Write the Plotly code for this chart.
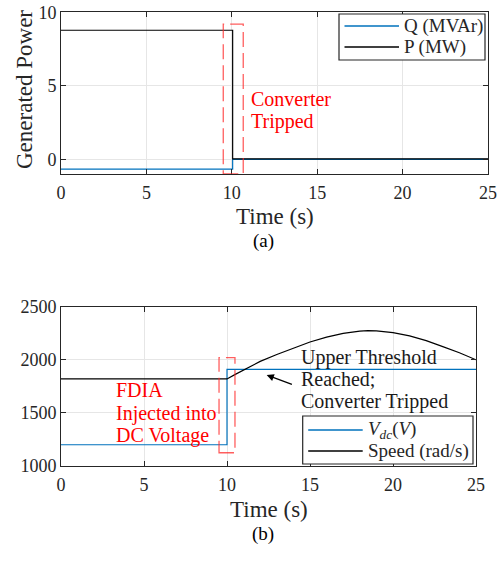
import plotly.graph_objects as go

# ---- data (a) ----
t_q = [0, 10.05, 25]
q_mvar = [-0.67, 0.0, 0.0]
t_p = [0, 10.05, 25]
p_mw = [8.78, 0.03, 0.03]

# ---- data (b) ----
t_vdc = [0, 10.0, 25]
vdc = [1200, 1910, 1910]
t_speed = [0, 5, 10, 10.5, 11, 11.5, 12, 13, 14, 15, 16, 17, 18, 18.5, 19, 20, 21, 22, 23, 24, 25]
speed = [1820, 1820, 1820, 1863, 1905, 1946, 1985, 2050, 2110, 2168, 2213, 2248, 2270, 2275, 2273,
         2256, 2226, 2180, 2124, 2066, 2000]

x_ticks = [0, 5, 10, 15, 20, 25]
ya_ticks = [0, 5, 10]
yb_ticks = [1000, 1500, 2000, 2500]

names_a = ["Q (MVAr)", "P (MW)"]
names_b = ["<i>V</i><sub><i>dc</i></sub>(<i>V</i>)", "Speed (rad/s)"]

FONT = "Liberation Serif"
AX = "#262626"
BLUE = "#0072BD"
RED = "#FF0000"
RECT = "rgba(255,40,40,0.75)"

W, H = 503, 561


def xp(px):
    return px / W


def yp(py):
    return 1 - py / H


fig = go.Figure()
fig.add_trace(go.Scatter(x=t_q, y=q_mvar, mode="lines", line=dict(color=BLUE, width=1.2, shape="hv"),
                         name=names_a[0], xaxis="x", yaxis="y", showlegend=False))
fig.add_trace(go.Scatter(x=t_p, y=p_mw, mode="lines", line=dict(color="black", width=1.2, shape="hv"),
                         name=names_a[1], xaxis="x", yaxis="y", showlegend=False))
fig.add_trace(go.Scatter(x=t_vdc, y=vdc, mode="lines", line=dict(color=BLUE, width=1.2, shape="hv"),
                         name=names_b[0], xaxis="x2", yaxis="y2", showlegend=False))
fig.add_trace(go.Scatter(x=t_speed, y=speed, mode="lines", line=dict(color="black", width=1.2, shape="linear"),
                         name=names_b[1], xaxis="x2", yaxis="y2", showlegend=False))

axis_common = dict(showline=True, linecolor=AX, linewidth=1, mirror="ticks", ticks="inside",
                   ticklen=5, tickcolor=AX, showgrid=True, gridcolor="#E6E6E6", gridwidth=1,
                   zeroline=False, automargin=False, tickfont=dict(family=FONT, size=18, color=AX))

fig.update_layout(
    width=W, height=H, margin=dict(l=0, r=0, t=0, b=0),
    plot_bgcolor="white", paper_bgcolor="white",
    font=dict(family=FONT, size=18, color=AX),
    xaxis=dict(domain=[xp(61), xp(488)], range=[0, 25], tickvals=x_ticks, anchor="y",
               ticklabelstandoff=2, **axis_common),
    yaxis=dict(domain=[yp(174), yp(12.3)], range=[-1, 10], tickvals=ya_ticks, anchor="x",
               **axis_common),
    xaxis2=dict(domain=[xp(61), xp(476)], range=[0, 25], tickvals=x_ticks, anchor="y2",
                ticklabelstandoff=2, **axis_common),
    yaxis2=dict(domain=[yp(466), yp(306.7)], range=[1000, 2500], tickvals=yb_ticks, anchor="x2",
                **axis_common),
    showlegend=False,
)

# FDIA / trip windows
fig.add_shape(type="rect", xref="x", yref="y", x0=9.5, x1=10.67, y0=-1, y1=9.2,
              line=dict(color=RECT, width=1.3, dash="15px,6px"))
fig.add_shape(type="rect", xref="x2", yref="y2", x0=9.52, x1=10.48, y0=1125, y1=2020,
              line=dict(color=RECT, width=1.3, dash="15px,6px"))


def text_line(txt, px_left, py_mid, color, size=20):
    fig.add_annotation(x=xp(px_left), y=yp(py_mid), xref="paper", yref="paper", text=txt,
                       showarrow=False, xanchor="left", yanchor="middle", align="left",
                       font=dict(family=FONT, size=size, color=color))


# legends (boxed, MATLAB style)
def legend_box(x0, x1, y0, y1, entries):
    fig.add_shape(type="rect", xref="paper", yref="paper", x0=xp(x0), x1=xp(x1), y0=yp(y1), y1=yp(y0),
                  line=dict(color=AX, width=1.2), fillcolor="white", layer="above")
    for name, color, yy in entries:
        fig.add_shape(type="line", xref="paper", yref="paper", x0=xp(x0 + 5.5), x1=xp(x0 + 60),
                      y0=yp(yy), y1=yp(yy), line=dict(color=color, width=1.3), layer="above")
        text_line(name, x0 + 63, yy, AX, size=19)


legend_box(339, 485, 14, 60, [(names_a[0], BLUE, 26), (names_a[1], "black", 47)])
legend_box(302.7, 473, 416, 464, [(names_b[0], BLUE, 430), (names_b[1], "black", 451)])

text_line("Converter", 249, 99, RED)
text_line("Tripped", 249, 121, RED)
text_line("FDIA", 114, 390, RED)
text_line("Injected into", 114, 413, RED)
text_line("DC Voltage", 114, 435, RED)
text_line("Upper Threshold", 299, 357.7, "#1a1a1a")
text_line("Reached;", 299, 379.3, "#1a1a1a")
text_line("Converter Tripped", 299, 401.7, "#1a1a1a")

fig.add_annotation(x=12.39, y=1857, ax=14.0, ay=1763, xref="x2", yref="y2", axref="x2", ayref="y2",
                   text="", showarrow=True, arrowhead=2, arrowsize=1.2, arrowwidth=1.2, arrowcolor="black")

# axis titles and panel labels
fig.add_annotation(x=xp(274.5), y=yp(216.7), xref="paper", yref="paper", text="Time (s)", showarrow=False,
                   xanchor="center", yanchor="middle", font=dict(family=FONT, size=23, color=AX))
fig.add_annotation(x=xp(268.5), y=yp(509), xref="paper", yref="paper", text="Time (s)", showarrow=False,
                   xanchor="center", yanchor="middle", font=dict(family=FONT, size=23, color=AX))
fig.add_annotation(x=xp(25), y=yp(90), xref="paper", yref="paper", text="Generated Power", showarrow=False,
                   textangle=-90, xanchor="center", yanchor="middle", font=dict(family=FONT, size=23, color=AX))
fig.add_annotation(x=xp(263), y=yp(241), xref="paper", yref="paper", text="(a)", showarrow=False,
                   font=dict(family=FONT, size=19, color="black"))
fig.add_annotation(x=xp(263), y=yp(547), xref="paper", yref="paper", text="(b)", showarrow=False,
                   font=dict(family=FONT, size=19, color="black"))

fig.write_html("out.html", config={"displayModeBar": False},
               post_script="document.body.style.margin='0px';")
